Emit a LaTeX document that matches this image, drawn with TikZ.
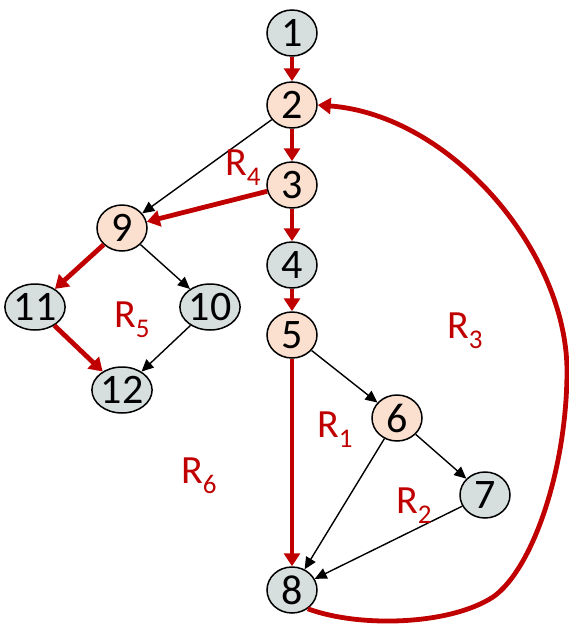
\documentclass[tikz,border=0pt]{standalone}
\usepackage{fontspec}
\setmainfont{Carlito}
\usetikzlibrary{shapes.geometric,arrows.meta}
\definecolor{grayfill}{HTML}{D6DFDE}
\definecolor{peach}{HTML}{FBE0D0}
\definecolor{redline}{HTML}{C00000}
\newcommand{\Rlab}[1]{R\raisebox{-10pt}{\fontsize{27}{27}\selectfont #1}}
\begin{document}
\begin{tikzpicture}[x=1pt,y=-1pt,
  vnode/.style={ellipse,draw=black,line width=1.5pt,minimum width=50pt,minimum height=46pt,inner sep=0pt,font=\fontsize{42}{42}\selectfont},
  gnode/.style={vnode,fill=grayfill},
  pnode/.style={vnode,fill=peach},
  redarrow/.style={draw=redline,line width=4.8pt,-{Triangle[length=13pt,width=16pt]}},
  blackarrow/.style={draw=black,line width=1.4pt,-{Triangle[length=12pt,width=11pt]}},
  rlabel/.style={text=redline,anchor=base west,inner sep=0pt,font=\fontsize{40}{40}\selectfont}]
\useasboundingbox (0,0) rectangle (569,624);
\node[gnode] (n1) at (292,33) {1};
\node[pnode] (n2) at (292,105) {2};
\node[pnode] (n3) at (292,185) {3};
\node[gnode] (n4) at (292,265) {4};
\node[pnode] (n5) at (292,335) {5};
\node[pnode] (n6) at (397,418) {6};
\node[gnode] (n7) at (485,495) {7};
\node[gnode] (n8) at (292,590) {8};
\node[pnode] (n9) at (122,228) {9};
\node[gnode] (n10) at (210,307) {10};
\node[gnode] (n11) at (35,307) {11};
\node[gnode] (n12) at (122,390) {12};
% black arrows
\draw[blackarrow] (n2) -- (n9);
\draw[blackarrow] (n9) -- (n10);
\draw[blackarrow] (n10) -- (n12);
\draw[blackarrow] (n5) -- (n6);
\draw[blackarrow] (n6) -- (n7);
\draw[blackarrow] (n6) -- (n8);
\draw[blackarrow] (n7) -- (n8);
% red arrows
\draw[redarrow] (n1) -- (n2);
\draw[redarrow] (n2) -- (n3);
\draw[redarrow] (n3) -- (n4);
\draw[redarrow] (n4) -- (n5);
\draw[redarrow] (n5) -- (n8);
\draw[redarrow] (n3) -- (n9);
\draw[redarrow] (n9) -- (n11);
\draw[redarrow] (n11) -- (n12);
\draw[redarrow] (n8.-50) .. controls (360,628) and (450,625) .. (493,597)
  .. controls (532,570) and (567,470) .. (567,370)
  .. controls (566,250) and (450,115) .. (n2.east);
% region labels
\node[rlabel] (r4) at (225,175) {\Rlab{4}};
\node[rlabel] (r5) at (114,327) {\Rlab{5}};
\node[rlabel] (r3) at (447,338) {\Rlab{3}};
\node[rlabel] (r1) at (317,437) {\Rlab{1}};
\node[rlabel] (r2) at (396,513) {\Rlab{2}};
\node[rlabel] (r6) at (181,483) {\Rlab{6}};
\end{tikzpicture}
\end{document}
